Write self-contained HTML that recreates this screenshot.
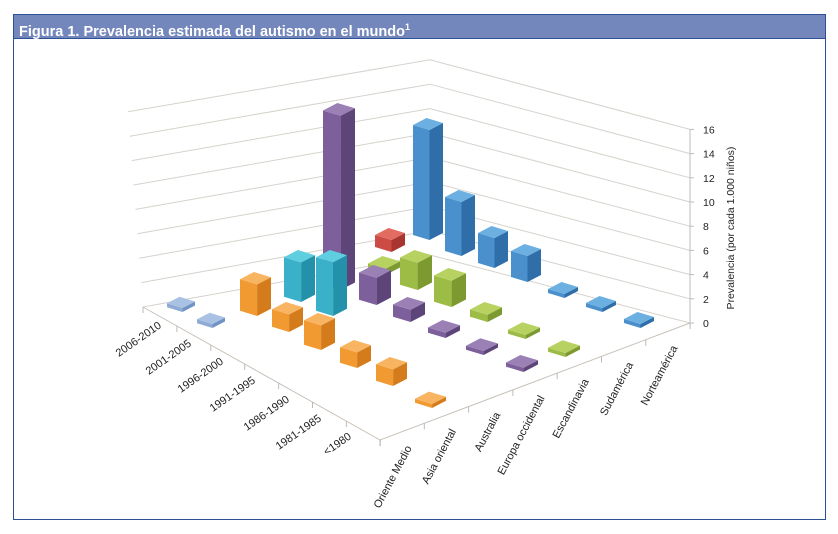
<!DOCTYPE html>
<html><head><meta charset="utf-8">
<style>
body{margin:0;background:#fff;width:838px;height:534px;overflow:hidden;font-family:"Liberation Sans",sans-serif;}
#frame{position:absolute;left:13px;top:14px;width:811px;height:504px;border:1px solid #2d4f94;}
#hdr{position:absolute;left:0;top:0;width:811px;height:24px;background:#7387bd;border-bottom:1px solid #2d4f94;color:#fff;font-weight:bold;font-size:14.5px;line-height:24px;padding-left:5px;box-sizing:border-box;}
svg{position:absolute;left:0;top:0;}
</style></head><body>
<div id="frame"><div id="hdr">Figura 1. Prevalencia estimada del autismo en el mundo<sup style="font-size:9px">1</sup></div></div>
<svg id="s" width="838" height="534" font-family="Liberation Sans, sans-serif" font-size="11" fill="#222"></svg>
<script>
var s=document.getElementById('s'),h='';
for(var v=0;v<=16;v+=2){
 var ly=307-v*12.2,lx=143-v*0.94,by=255-v*12.2,ry=323-v*12.1;
 h+='<polyline points="'+lx+','+ly+' 430,'+by+' 690,'+ry+'" fill="none" stroke="#d6d2cc" stroke-width="1"/>';
 h+='<line x1="690" y1="'+ry+'" x2="694" y2="'+ry+'" stroke="#bbb"/>';
 h+='<text x="703" y="'+(ry+4)+'" font-size="10.5">'+v+'</text>';
}
h+='<line x1="690" y1="129" x2="690" y2="323" stroke="#bbb"/>';
h+='<line x1="143" y1="307" x2="380" y2="440" stroke="#c8c0b8"/><line x1="380" y1="440" x2="690" y2="323" stroke="#c8c0b8"/>';
for(var i=0;i<=7;i++){var x=143+i*33.9,y=307+i*19;h+='<line x1="'+x+'" y1="'+y+'" x2="'+x+'" y2="'+(y+6)+'" stroke="#bbb"/>';
 var x2=380+i*44.3,y2=440-i*16.7;h+='<line x1="'+x2+'" y1="'+y2+'" x2="'+x2+'" y2="'+(y2+6)+'" stroke="#bbb"/>';}
var C={o:['#f29a32','#d47c1c','#f8b460'],p:['#7d5f9b','#5e4579','#9b80b6'],b:['#4a90cd','#2f6ea9','#6cafe1'],g:['#9cbc46','#7c9a30','#b8d262'],t:['#3ab1c9','#2391a9','#5fcee1'],r:['#cd4b45','#a93530','#e26b62'],l:['#8eabd6','#7093c4','#a9c1e3']};
var B=[['l',167,300,312],['l',197,318,328],['o',240,272,316],['o',272,302,332],['o',304,313,350],['o',340,340,368],['o',376,357,386],['o',415,393,408],
['t',284,250,302],['t',316,250,316],['p',323,103,290],['p',359,265,305],['p',393,297,322],['p',428,320,338],['p',466,339,355],['p',506,355,372],
['r',375,228,252],['g',368,256,275],['g',400,250,290],['g',434,268,307],['g',470,302,322],['g',508,323,339],['g',548,341,357],
['b',413,118,240],['b',445,190,256],['b',478,226,268],['b',511,244,282],['b',548,284,298],['b',586,296,312],['b',624,316,328]];
var W={l:28,o:31,t:31,p:32,r:30,g:32,b:30};
B.sort(function(a,b){return a[3]-b[3]});
B.forEach(function(q){var c=C[q[0]],x=q[1],t=q[2],bt=q[3],w=W[q[0]],k=w/30,a=5*k,bb=7*k,fw=0.55*w;
 if(bt<t+a+bb+4){t=bt-(a+bb+4);}
 var L=[x,t+bb],F=[x+fw,t+a+bb],R=[x+w,t+a],Bk=[x+w-fw,t];
 var P=function(a){return a.map(function(p){return p[0].toFixed(1)+','+p[1].toFixed(1)}).join(' ')};
 h+='<polygon points="'+P([L,F,[F[0],bt],[x,bt-a]])+'" fill="'+c[0]+'"/>';
 h+='<polygon points="'+P([F,R,[x+w,bt-bb],[F[0],bt]])+'" fill="'+c[1]+'"/>';
 h+='<polygon points="'+P([L,Bk,R,F])+'" fill="'+c[2]+'"/>';
});
var rl=[['2006-2010',162,327],['2001-2005',192,345],['1996-2000',224,363],['1991-1995',256,382],['1986-1990',290,401],['1981-1985',322,420],['<1980',352,438]];
rl.forEach(function(r){h+='<text x="'+r[1]+'" y="'+r[2]+'" text-anchor="end" transform="rotate(-35 '+r[1]+' '+r[2]+')">'+r[0]+'</text>';});
var cl=['Oriente Medio','Asia oriental','Australia','Europa occidental','Escandinavia','Sudamérica','Norteamérica'];
cl.forEach(function(n,i){var x=412+i*44.3,y=448-i*16.7;h+='<text x="'+x+'" y="'+y+'" text-anchor="end" transform="rotate(-62 '+x+' '+y+')">'+n+'</text>';});
h+='<text x="734" y="228" text-anchor="middle" font-size="10.5" transform="rotate(-90 734 228)">Prevalencia (por cada 1.000 niños)</text>';
s.innerHTML=h;
</script>
</body></html>
